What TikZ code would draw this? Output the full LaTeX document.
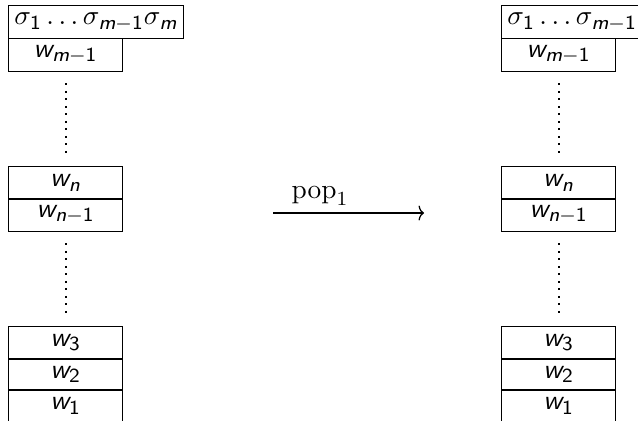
\documentclass[tikz,border=0pt]{standalone}
\usepackage{amsmath}
\usetikzlibrary{arrows.meta}
\newcommand{\sv}[1]{\textsf{\itshape #1}}
\newcommand{\sd}[1]{\textsf{#1}}
\begin{document}
\begin{tikzpicture}[x=0.4pt,y=-0.4pt,
  every node/.style={font=\fontsize{10.95}{13}\selectfont},
  cell/.style={draw, line width=0.5pt, minimum width=45.6pt, minimum height=13pt, inner sep=0pt, anchor=north west},
  topcell/.style={draw, line width=0.5pt, minimum height=13.2pt, inner xsep=2.3pt, inner ysep=0pt, anchor=north west},
  dotline/.style={line width=0.75pt, dash pattern=on 0.75pt off 2.25pt, shorten <=4.6pt, shorten >=3.3pt}]
\useasboundingbox (0,0) rectangle (638,420);
% left stack
\node[topcell] (Ls) at (8,5) {$\sigma_{\sd{1}}\ldots\sigma_{\sv{m}-\sd{1}}\sigma_{\sv{m}}$};
\node[cell] (Lm) at (8,38) {$\sv{w}_{\sv{m}-\sd{1}}$};
\node[cell] (Ln) at (8,166) {$\sv{w}_{\sv{n}}$};
\node[cell] (Ln1) at (8,198) {$\sv{w}_{\sv{n}-\sd{1}}$};
\node[cell] (L3) at (8,326) {$\sv{w}_{\sd{3}}$};
\node[cell] (L2) at (8,357.5) {$\sv{w}_{\sd{2}}$};
\node[cell] (L1) at (8,389) {$\sv{w}_{\sd{1}}$};
\draw[dotline] (Lm.south) -- (Ln.north);
\draw[dotline] (Ln1.south) -- (L3.north);
% right stack
\node[topcell] (Rs) at (501,5) {$\sigma_{\sd{1}}\ldots\sigma_{\sv{m}-\sd{1}}$};
\node[cell] (Rm) at (501,38) {$\sv{w}_{\sv{m}-\sd{1}}$};
\node[cell] (Rn) at (501,166) {$\sv{w}_{\sv{n}}$};
\node[cell] (Rn1) at (501,198) {$\sv{w}_{\sv{n}-\sd{1}}$};
\node[cell] (R3) at (501,326) {$\sv{w}_{\sd{3}}$};
\node[cell] (R2) at (501,357.5) {$\sv{w}_{\sd{2}}$};
\node[cell] (R1) at (501,389) {$\sv{w}_{\sd{1}}$};
\draw[dotline] (Rm.south) -- (Rn.north);
\draw[dotline] (Rn1.south) -- (R3.north);
% arrow
\coordinate (A) at (273,213);
\coordinate (B) at (424,213);
\draw[-{Computer Modern Rightarrow[length=2.2pt,width=6pt]}, line width=0.5pt] (A) -- (B);
\node (pop) at (320,196) {$\mathrm{pop}_1$};
\end{tikzpicture}
\end{document}
